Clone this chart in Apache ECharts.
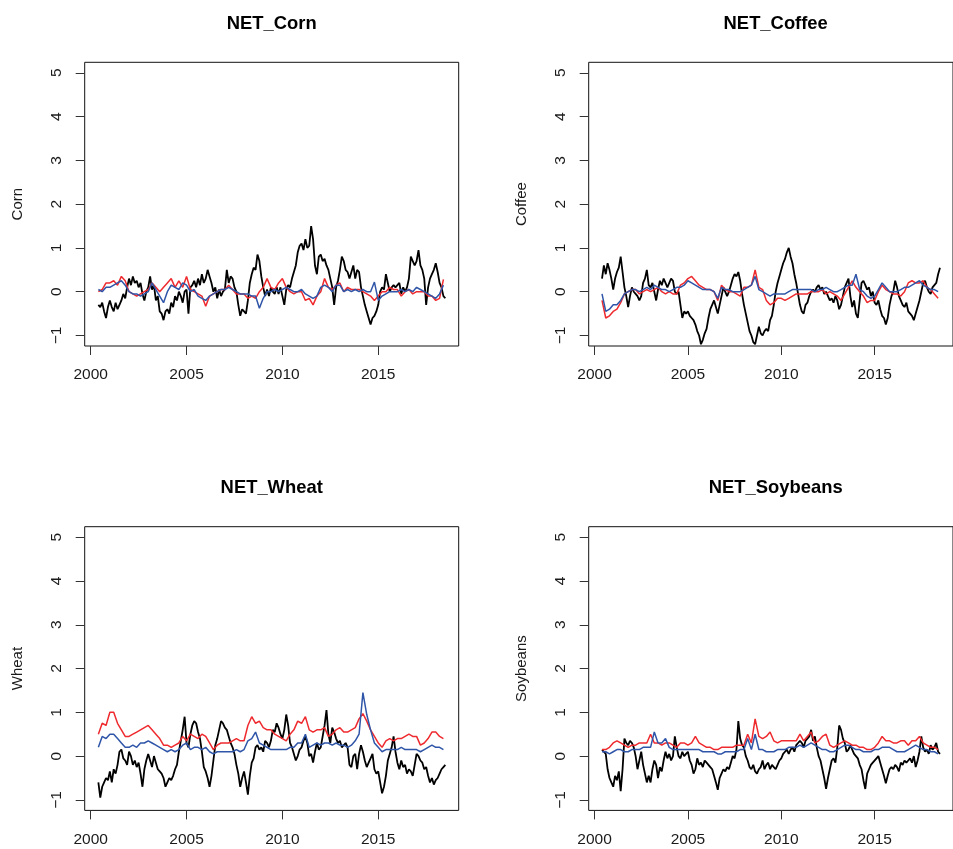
<!DOCTYPE html>
<html><head><meta charset="utf-8">
<script src="https://cdn.jsdelivr.net/npm/echarts@6/dist/echarts.min.js"></script>
<style>html,body{margin:0;padding:0;background:#fff}#c{width:953px;height:849px}</style>
</head><body><div id="c"></div>
<script>
const panelTitles = ['NET_Corn', 'NET_Coffee', 'NET_Wheat', 'NET_Soybeans'];
const yNames = ['Corn', 'Coffee', 'Wheat', 'Soybeans'];
const xTicks = [2000, 2005, 2010, 2015];
const yTicks = [-1, 0, 1, 2, 3, 4, 5];
const blackStart = 2000.4, blackStep = 0.1;
const smoothStart = 2000.4, smoothStep = 0.2;

const cornBlack = [
 -0.3,-0.35,-0.25,-0.45,-0.6,-0.35,
 -0.2,-0.35,-0.45,-0.25,-0.4,-0.3,-0.2,-0.05,-0.15,0.1,
 0.3,0.15,0.35,0.2,0.25,0.1,0.2,-0.05,-0.2,0.0,
 0.1,0.35,0.05,0.15,-0.2,-0.1,-0.45,-0.5,-0.65,-0.45,
 -0.4,-0.5,-0.25,-0.35,-0.1,-0.2,0.0,-0.1,-0.25,0.0,
 0.05,-0.5,0.1,0.15,0.25,0.1,0.3,0.15,0.4,0.2,
 0.3,0.5,0.35,0.2,0.0,0.1,-0.15,0.05,-0.1,0.0,
 0.05,0.5,0.2,0.35,0.3,0.1,0.0,-0.3,-0.55,-0.4,
 -0.45,-0.5,-0.2,0.2,0.4,0.55,0.5,0.85,0.7,0.35,
 0.1,-0.1,0.05,-0.1,0.1,0.0,-0.05,0.1,-0.05,0.1,
 -0.1,-0.3,0.05,0.15,0.1,0.3,0.45,0.6,0.9,1.05,
 1.1,0.95,1.2,1.0,1.05,1.5,1.2,0.6,0.4,0.8,
 0.85,0.7,0.75,0.6,0.5,0.3,0.1,-0.3,0.1,0.25,
 0.5,0.8,0.7,0.5,0.45,0.3,0.45,0.6,0.3,0.5,
 0.45,0.1,-0.1,-0.3,-0.45,-0.6,-0.75,-0.6,-0.55,-0.45,
 -0.3,0.0,0.1,0.05,0.4,0.2,0.0,0.1,0.15,0.1,
 0.1,0.2,-0.05,0.1,0.0,0.1,0.3,0.8,0.7,0.6,
 0.7,0.95,0.6,0.5,0.3,-0.3,0.1,0.3,0.4,0.5,
 0.65,0.45,0.2,0.1,-0.1,-0.15
];
const cornRed = [
 0.0,0.05,0.2,
 0.2,0.25,0.15,0.35,0.25,
 0.0,-0.05,-0.1,-0.05,0.0,
 0.05,0.2,0.1,0.0,0.1,
 0.2,0.3,0.1,0.25,0.1,
 0.35,0.05,0.0,-0.05,-0.1,
 -0.33,-0.1,-0.05,0.0,0.05,
 0.05,0.15,0.05,-0.05,-0.05,
 -0.05,-0.15,-0.1,-0.15,0.0,
 0.1,0.3,0.1,0.05,0.2,
 0.3,0.1,0.0,-0.05,0.0,
 0.0,-0.2,-0.15,-0.3,-0.1,
 0.0,0.3,0.1,0.05,0.15,
 0.2,0.0,0.1,0.05,0.05,
 0.05,0.0,-0.05,-0.1,-0.2,
 -0.1,0.0,0.0,0.1,0.05,
 0.05,-0.1,0.0,0.05,-0.05,
 0.0,0.0,0.0,-0.1,-0.1,
 -0.2,-0.15,0.28
];
const cornBlue = [
 0.05,0.0,0.1,
 0.1,0.15,0.2,0.25,0.15,
 0.0,-0.05,-0.05,-0.1,-0.05,
 0.0,0.2,0.05,-0.1,-0.25,
 0.0,0.15,0.1,0.05,0.2,
 0.15,0.0,0.05,-0.1,-0.15,
 -0.2,-0.1,-0.05,0.0,0.05,
 0.05,0.1,0.05,0.0,-0.05,
 -0.05,-0.05,-0.1,-0.1,-0.38,
 -0.15,0.0,0.0,0.05,0.0,
 0.05,0.1,0.05,0.0,0.0,
 0.05,-0.05,-0.1,-0.15,-0.1,
 0.1,0.15,0.1,0.0,0.15,
 0.15,0.0,0.05,0.0,0.05,
 0.0,0.05,0.0,0.0,0.22,
 -0.2,-0.1,-0.05,0.0,0.0,
 0.0,0.05,0.0,0.05,0.0,
 0.1,0.05,0.0,-0.05,-0.1,
 -0.15,-0.05,0.15
];

const coffeeBlack = [
 0.3,0.6,0.4,0.65,0.5,0.3,
 0.05,0.3,0.45,0.55,0.8,0.45,0.1,-0.1,-0.35,-0.1,
 0.1,0.0,-0.05,-0.1,-0.2,-0.1,0.2,0.3,0.5,0.15,
 0.1,0.2,0.0,-0.2,0.05,0.25,0.15,0.3,0.2,0.1,
 0.1,0.3,0.25,0.0,-0.05,0.0,-0.3,-0.6,-0.45,-0.5,
 -0.45,-0.55,-0.6,-0.65,-0.75,-0.9,-1.0,-1.2,-1.1,-0.95,
 -0.85,-0.6,-0.4,-0.3,-0.2,-0.35,-0.5,-0.3,-0.1,0.1,
 0.1,-0.1,0.0,0.15,0.3,0.4,0.35,0.45,0.25,-0.05,
 -0.3,-0.5,-0.7,-0.9,-1.0,-1.15,-1.2,-1.0,-0.8,-0.95,
 -1.0,-0.9,-0.85,-0.9,-0.65,-0.55,-0.3,0.0,0.2,0.35,
 0.5,0.65,0.75,0.9,1.0,0.8,0.65,0.4,0.2,-0.05,
 -0.3,-0.45,-0.5,-0.3,-0.25,-0.1,0.0,0.05,0.0,0.1,
 0.15,0.05,0.1,-0.05,0.0,-0.1,-0.2,-0.15,-0.25,-0.1,
 -0.2,-0.4,-0.3,-0.1,0.1,0.2,0.3,-0.1,-0.35,-0.2,
 -0.5,-0.6,-0.2,0.2,0.25,0.15,0.05,0.1,-0.1,0.0,
 -0.25,-0.3,-0.2,-0.4,-0.55,-0.6,-0.75,-0.6,-0.3,-0.1,
 0.0,0.25,0.1,-0.1,-0.2,-0.3,-0.35,-0.25,-0.45,-0.5,
 -0.55,-0.65,-0.5,-0.35,-0.2,0.0,0.2,0.25,0.1,0.0,
 -0.05,0.1,0.1,0.2,0.4,0.55
];
const coffeeRed = [
 -0.2,-0.6,-0.55,
 -0.45,-0.4,-0.25,-0.05,0.0,
 0.05,0.05,-0.05,0.0,0.05,
 0.0,0.05,0.1,0.0,-0.05,
 0.0,-0.05,-0.05,0.15,0.2,
 0.3,0.35,0.25,0.15,0.1,
 0.05,0.05,0.0,-0.2,0.15,
 0.05,0.0,0.0,-0.05,-0.1,
 0.1,0.1,0.15,0.5,0.1,
 0.05,-0.2,-0.3,-0.25,-0.15,
 -0.15,-0.2,-0.15,-0.1,-0.05,
 -0.05,-0.05,-0.05,0.0,0.0,
 0.0,0.05,-0.05,0.0,-0.05,
 -0.1,-0.2,-0.05,0.1,0.25,
 0.1,0.0,-0.1,-0.25,-0.2,
 -0.2,0.0,0.15,0.05,0.0,
 -0.05,-0.05,-0.1,0.0,0.2,
 0.25,0.2,0.2,0.25,0.1,
 0.05,-0.05,-0.15
];
const coffeeBlue = [
 -0.05,-0.45,-0.4,
 -0.3,-0.3,-0.2,-0.05,0.0,
 0.05,0.05,0.0,0.05,0.1,
 0.05,0.15,0.1,0.05,0.05,
 0.0,0.05,0.1,0.1,0.15,
 0.25,0.2,0.15,0.1,0.05,
 0.05,0.05,0.0,-0.15,0.1,
 0.05,0.05,0.0,0.0,0.0,
 0.05,0.1,0.15,0.35,0.05,
 0.0,-0.05,-0.1,-0.05,-0.05,
 -0.05,-0.05,0.0,0.05,0.05,
 0.05,0.05,0.05,0.05,0.0,
 0.05,0.05,0.1,0.05,0.0,
 0.0,0.05,0.1,0.15,0.15,
 0.4,0.05,0.0,-0.1,-0.15,
 -0.1,0.05,0.2,0.1,0.0,
 0.0,0.0,0.05,0.1,0.1,
 0.15,0.2,0.25,0.15,0.1,
 0.05,0.05,0.0
];

const wheatBlack = [
 -0.6,-0.95,-0.7,-0.6,-0.5,-0.55,
 -0.35,-0.6,-0.3,-0.4,-0.2,0.1,0.15,-0.05,-0.1,-0.2,
 0.1,0.0,-0.2,-0.1,-0.25,-0.15,-0.4,-0.7,-0.3,-0.1,
 0.05,-0.1,-0.25,0.0,-0.15,-0.3,-0.35,-0.4,-0.5,-0.7,
 -0.6,-0.5,-0.55,-0.45,-0.3,-0.2,0.1,0.35,0.6,0.9,
 0.3,0.2,0.5,0.7,0.8,0.75,0.55,0.4,0.1,-0.25,
 -0.35,-0.5,-0.7,-0.45,-0.1,0.25,0.4,0.6,0.8,0.75,
 0.65,0.6,0.45,0.3,0.2,0.05,-0.2,-0.4,-0.7,-0.5,
 -0.35,-0.6,-0.88,-0.45,-0.15,-0.05,0.2,0.25,0.15,0.2,
 0.1,0.35,0.3,0.2,0.35,0.6,0.55,0.75,0.65,0.5,
 0.4,0.6,0.95,0.7,0.3,0.2,0.05,-0.1,0.0,0.15,
 0.2,0.35,0.45,0.3,0.0,0.05,-0.15,0.1,0.3,0.15,
 0.2,0.45,0.7,1.05,0.5,0.3,0.65,0.55,0.4,0.3,
 0.35,0.2,0.25,0.3,0.2,-0.2,-0.25,0.0,0.05,-0.3,
 0.05,0.25,0.1,-0.1,-0.25,-0.15,-0.05,0.05,-0.3,-0.4,
 -0.35,-0.6,-0.85,-0.7,-0.45,-0.1,0.05,0.2,0.45,0.1,
 -0.15,-0.3,-0.1,-0.25,-0.2,-0.4,-0.3,-0.35,-0.45,-0.2,
 0.05,0.0,-0.1,-0.15,-0.3,-0.25,-0.45,-0.6,-0.5,-0.65,
 -0.55,-0.5,-0.4,-0.3,-0.25,-0.2
];
const wheatRed = [
 0.5,0.75,0.7,
 1.0,1.0,0.75,0.6,0.45,
 0.45,0.5,0.55,0.6,0.65,
 0.7,0.6,0.5,0.4,0.25,
 0.25,0.2,0.25,0.3,0.45,
 0.35,0.5,0.45,0.4,0.5,
 0.45,0.3,0.15,0.25,0.3,
 0.3,0.3,0.35,0.4,0.35,
 0.35,0.7,0.9,0.75,0.8,
 0.65,0.6,0.6,0.5,0.45,
 0.4,0.35,0.5,0.6,0.8,
 0.75,0.9,0.6,0.55,0.6,
 0.6,0.65,0.45,0.5,0.6,
 0.65,0.55,0.55,0.6,0.65,
 0.85,0.97,0.8,0.6,0.45,
 0.3,0.2,0.35,0.4,0.35,
 0.4,0.4,0.45,0.5,0.45,
 0.45,0.25,0.3,0.4,0.55,
 0.55,0.45,0.4
];
const wheatBlue = [
 0.2,0.45,0.4,
 0.5,0.5,0.4,0.3,0.2,
 0.2,0.25,0.2,0.3,0.3,
 0.35,0.3,0.25,0.2,0.15,
 0.1,0.15,0.1,0.15,0.25,
 0.3,0.15,0.2,0.2,0.15,
 0.2,0.1,0.05,0.1,0.1,
 0.1,0.1,0.1,0.15,0.1,
 0.15,0.35,0.4,0.55,0.3,
 0.25,0.2,0.15,0.15,0.15,
 0.15,0.15,0.2,0.2,0.3,
 0.3,0.5,0.2,0.25,0.3,
 0.25,0.3,0.3,0.25,0.3,
 0.25,0.25,0.2,0.25,0.35,
 0.5,1.45,0.95,0.6,0.3,
 0.2,0.1,0.15,0.15,0.15,
 0.15,0.2,0.15,0.15,0.15,
 0.15,0.1,0.15,0.2,0.25,
 0.2,0.2,0.15
];

const soyBlack = [
 0.15,0.1,0.05,-0.3,-0.5,-0.6,
 -0.7,-0.45,-0.55,-0.35,-0.8,-0.3,0.4,0.3,0.25,0.35,
 0.3,0.2,0.0,-0.3,-0.1,0.1,-0.2,-0.4,-0.6,-0.45,
 -0.6,-0.3,-0.1,-0.2,-0.5,-0.25,-0.35,-0.1,0.1,-0.05,
 0.05,-0.1,0.0,0.45,0.2,0.0,-0.05,0.1,0.0,0.05,
 0.1,-0.1,-0.2,-0.4,-0.3,-0.05,-0.2,-0.15,-0.25,-0.1,
 -0.15,-0.2,-0.25,-0.3,-0.45,-0.6,-0.77,-0.5,-0.4,-0.3,
 -0.35,-0.25,-0.3,-0.15,0.0,-0.05,0.15,0.8,0.4,0.25,
 0.2,0.0,-0.1,-0.25,-0.3,-0.2,-0.35,-0.4,-0.3,-0.25,
 -0.1,-0.3,-0.2,-0.15,-0.3,-0.2,-0.25,-0.3,-0.2,-0.1,
 -0.05,0.05,0.1,0.15,0.05,0.15,0.2,0.1,0.25,0.3,
 0.35,0.3,0.2,0.35,0.4,0.45,0.6,0.35,0.45,0.2,
 0.0,-0.1,-0.3,-0.5,-0.75,-0.5,-0.3,-0.1,-0.05,-0.15,
 0.2,0.7,0.6,0.4,0.3,0.1,0.15,0.25,0.15,0.05,
 0.0,-0.05,-0.2,-0.3,-0.55,-0.75,-0.4,-0.3,-0.2,-0.15,
 -0.15,-0.05,0.0,-0.15,-0.3,-0.45,-0.62,-0.45,-0.3,-0.25,
 -0.3,-0.2,-0.25,-0.35,-0.15,-0.2,-0.1,-0.15,-0.1,-0.05,
 -0.15,0.0,-0.25,-0.1,0.1,0.45,0.2,0.1,0.15,0.05,
 0.25,0.15,0.2,0.3,0.1,0.05
];
const soyRed = [
 0.15,0.15,0.2,
 0.3,0.35,0.3,0.25,0.2,
 0.25,0.25,0.3,0.3,0.3,
 0.5,0.3,0.3,0.25,0.3,
 0.3,0.25,0.2,0.3,0.3,
 0.25,0.3,0.45,0.3,0.25,
 0.2,0.2,0.15,0.15,0.2,
 0.2,0.2,0.2,0.25,0.25,
 0.25,0.5,0.3,0.85,0.45,
 0.4,0.45,0.55,0.35,0.3,
 0.35,0.35,0.35,0.35,0.35,
 0.5,0.35,0.45,0.55,0.3,
 0.35,0.45,0.5,0.25,0.2,
 0.25,0.3,0.35,0.3,0.25,
 0.25,0.2,0.2,0.15,0.15,
 0.2,0.3,0.45,0.35,0.35,
 0.3,0.3,0.35,0.35,0.25,
 0.35,0.35,0.45,0.3,0.25,
 0.2,0.2,0.15
];
const soyBlue = [
 0.1,0.1,0.05,
 0.1,0.15,0.15,0.1,0.1,
 0.15,0.15,0.15,0.2,0.2,
 0.2,0.55,0.3,0.3,0.4,
 0.2,0.15,0.15,0.15,0.15,
 0.15,0.15,0.15,0.15,0.1,
 0.1,0.1,0.1,0.05,0.05,
 0.1,0.1,0.1,0.1,0.15,
 0.15,0.4,0.15,0.5,0.15,
 0.15,0.1,0.1,0.1,0.15,
 0.15,0.15,0.2,0.2,0.2,
 0.25,0.2,0.25,0.3,0.25,
 0.2,0.15,0.15,0.1,0.1,
 0.15,0.2,0.25,0.25,0.2,
 0.15,0.15,0.1,0.1,0.1,
 0.15,0.15,0.2,0.2,0.2,
 0.15,0.1,0.1,0.1,0.15,
 0.2,0.25,0.2,0.15,0.15,
 0.1,0.1,0.05
];

const panels = [
  [cornBlack, cornRed, cornBlue],
  [coffeeBlack, coffeeRed, coffeeBlue],
  [wheatBlack, wheatRed, wheatBlue],
  [soyBlack, soyRed, soyBlue]
];

const FONT = '"Liberation Sans", Arial, Helvetica, sans-serif';
const gridBoxes = [
  { left: 84.7, top: 62.3 },
  { left: 588.7, top: 62.3 },
  { left: 84.7, top: 526.7 },
  { left: 588.7, top: 526.7 }
];
const GW = 374, GH = 283.7;

function toPairs(arr, start, step) {
  return arr.map((v, i) => [+(start + i * step).toFixed(3), v]);
}

const grid = [], xAxis = [], yAxis = [], series = [], graphic = [];
gridBoxes.forEach((g, k) => {
  grid.push({ left: g.left, top: g.top, width: GW, height: GH, show: true,
    borderColor: '#111', borderWidth: 1, backgroundColor: 'transparent', containLabel: false });
  xAxis.push({
    type: 'value', gridIndex: k, min: 1999.687, max: 2019.197,
    axisLine: { show: false, onZero: false },
    splitLine: { show: false },
    axisTick: { show: true, length: 9, customValues: xTicks, lineStyle: { color: '#333', width: 1 } },
    axisLabel: { show: true, customValues: xTicks, margin: 21, fontSize: 15.5, color: '#1a1a1a', fontFamily: FONT,
      formatter: v => String(Math.round(v)) }
  });
  yAxis.push({
    type: 'value', gridIndex: k, min: -1.24, max: 5.24,
    name: yNames[k], nameLocation: 'middle', nameRotate: 90, nameGap: 59,
    nameTextStyle: { fontSize: 15, color: '#1a1a1a', fontFamily: FONT },
    axisLine: { show: false, onZero: false },
    splitLine: { show: false },
    axisTick: { show: true, length: 9, customValues: yTicks, lineStyle: { color: '#333', width: 1 } },
    axisLabel: { show: true, customValues: yTicks, rotate: 90, margin: 20, fontSize: 15.5, color: '#1a1a1a', fontFamily: FONT,
      formatter: v => String(Math.round(v)).replace('-', '\u2212') }
  });
  const [b, r, bl] = panels[k];
  series.push({ type: 'line', xAxisIndex: k, yAxisIndex: k, data: toPairs(b, blackStart, blackStep),
    showSymbol: false, symbol: 'none', clip: true, lineStyle: { color: '#000', width: 1.8 }, z: 2, silent: true, animation: false });
  series.push({ type: 'line', xAxisIndex: k, yAxisIndex: k, data: toPairs(r, smoothStart, smoothStep),
    showSymbol: false, symbol: 'none', clip: true, lineStyle: { color: '#ee2a2e', width: 1.5 }, z: 3, silent: true, animation: false });
  series.push({ type: 'line', xAxisIndex: k, yAxisIndex: k, data: toPairs(bl, smoothStart, smoothStep),
    showSymbol: false, symbol: 'none', clip: true, lineStyle: { color: '#2f55a8', width: 1.5 }, z: 4, silent: true, animation: false });
  graphic.push({ type: 'text', x: g.left + 187, y: g.top - 38.3, z: 10,
    style: { text: panelTitles[k], font: 'bold 18.4px ' + FONT, textAlign: 'center', textVerticalAlign: 'middle', fill: '#000' } });
});

const chart = echarts.init(document.getElementById('c'), null, { renderer: 'canvas' });
chart.setOption({ animation: false, backgroundColor: '#fff', grid, xAxis, yAxis, series, graphic });
</script>
</body></html>
